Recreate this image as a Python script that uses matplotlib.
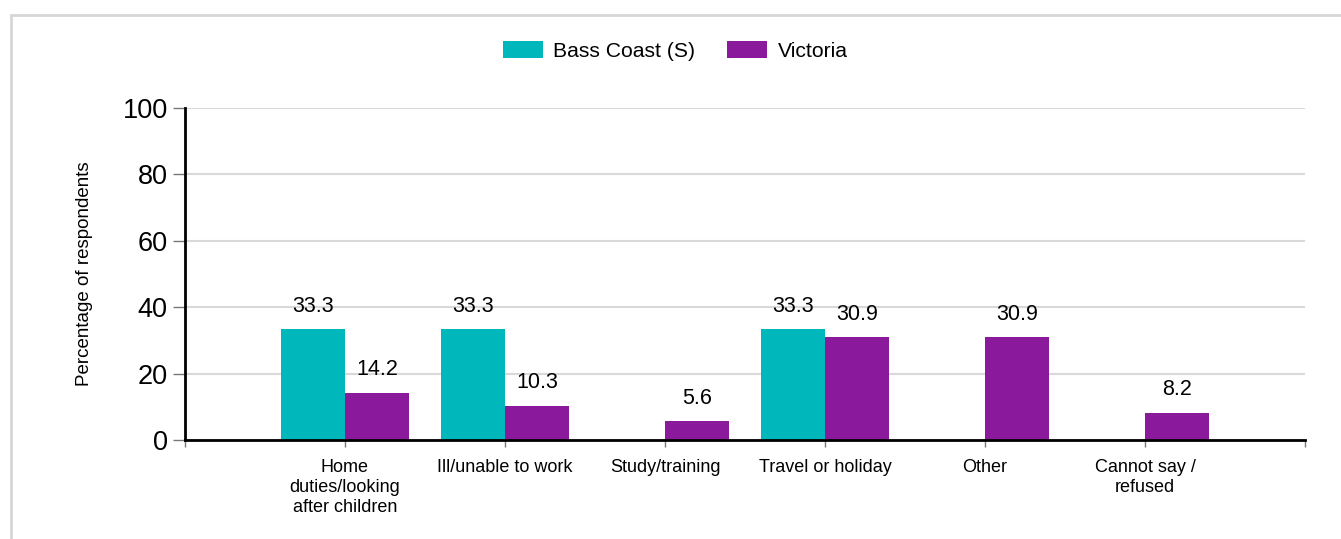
import numpy as np
import matplotlib.pyplot as plt
from matplotlib.patches import Rectangle

categories = ["Home\nduties/looking\nafter children", "Ill/unable to work", "Study/training",
              "Travel or holiday", "Other", "Cannot say /\nrefused"]
bass_coast = [33.3, 33.3, None, 33.3, None, None]
victoria = [14.2, 10.3, 5.6, 30.9, 30.9, 8.2]
series_names = ["Bass Coast (S)", "Victoria"]
yticks = [0, 20, 40, 60, 80, 100]

teal = "#00b8bc"
purple = "#8b199c"

plt.rcParams['font.family'] = ['Liberation Sans', 'DejaVu Sans']

fig = plt.figure(figsize=(13.41, 5.39), dpi=100)
# outer frame
fig.patches.append(Rectangle((11 / 1341, -0.05), 1.1, 1 - 15 / 539 + 0.05, transform=fig.transFigure,
                             fill=False, edgecolor="#d6d6d6", linewidth=2))
ax = fig.add_axes([185 / 1341, 1 - 440 / 539, 1120 / 1341, 332 / 539])

x = np.arange(len(categories))
w = 0.4
bc = [v if v is not None else 0 for v in bass_coast]
b1 = ax.bar(x - w / 2, bc, w, color=teal, label=series_names[0])
b2 = ax.bar(x + w / 2, victoria, w, color=purple, label=series_names[1])

for xi, v in zip(x, bass_coast):
    if v is not None:
        ax.annotate(f"{v:.1f}", (xi - w / 2, v), xytext=(0, 9), textcoords="offset points",
                    ha="center", va="bottom", fontsize=15.5)
for xi, v in zip(x, victoria):
    ax.annotate(f"{v:.1f}", (xi + w / 2, v), xytext=(0, 9), textcoords="offset points",
                ha="center", va="bottom", fontsize=15.5)

ax.set_xlim(-1, len(categories))
ax.set_ylim(0, 100)
ax.set_yticks(yticks)
ax.set_yticklabels([str(t) for t in yticks], fontsize=19.5)
ax.yaxis.grid(True, color="#d9d9d9", linewidth=1.5)
ax.set_axisbelow(True)
ax.tick_params(axis="y", length=8.5, color="#777777", width=1, pad=4)

ax.set_xticks(np.concatenate([[-1], x, [len(categories)]]))
ax.set_xticklabels([""] + categories + [""], fontsize=13, linespacing=1.2, va="top")
ax.tick_params(axis="x", length=5, color="#777777", width=1, pad=9)

for s in ["top", "right"]:
    ax.spines[s].set_visible(False)
ax.spines["left"].set_linewidth(2)
ax.spines["bottom"].set_linewidth(2)

ax.set_ylabel("Percentage of respondents", fontsize=13.5)
ax.yaxis.set_label_coords(-0.082, 0.5)

fig.legend(handles=[b1, b2], loc="center", bbox_to_anchor=(675 / 1341, 1 - 51 / 539), ncol=2,
           frameon=False, fontsize=15.2, handlelength=1.9, handleheight=0.85, columnspacing=1.5,
           handletextpad=0.5)

fig.savefig("out.png", dpi=100)
